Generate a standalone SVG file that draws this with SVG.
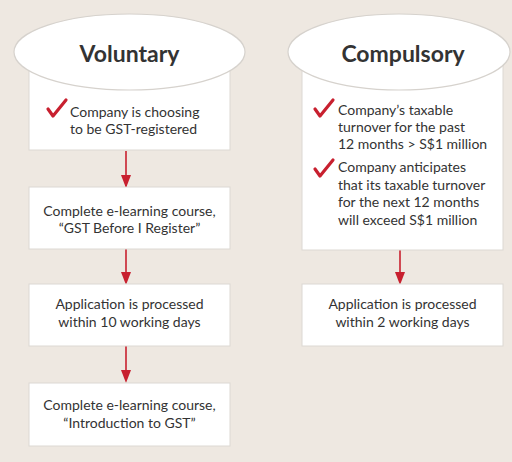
<svg xmlns="http://www.w3.org/2000/svg" width="512" height="462" viewBox="0 0 512 462">
<defs>
<style>
.box{fill:#fff;stroke:#dcd8d3;stroke-width:1}
.ell{fill:#fff;stroke:#d6d2cd;stroke-width:1.2}
.title{font-family:Lato,"Liberation Sans",sans-serif;font-size:23px;font-weight:bold;fill:#333;text-anchor:middle}
.t{font-family:Lato,"Liberation Sans",sans-serif;font-size:14px;fill:#333}
.c{text-anchor:middle}
.chk{fill:none;stroke:#c8202f;stroke-width:3.2;stroke-linecap:round;stroke-linejoin:round}
.arr{stroke:#c8202f;stroke-width:1.6;fill:none}
</style>
<marker id="ah" viewBox="0 0 10 10" refX="9" refY="5" markerWidth="7" markerHeight="7" markerUnits="userSpaceOnUse" orient="auto">
<path d="M0,0 L10,5 L0,10 z" fill="#c8202f"/>
</marker>
</defs>
<rect width="512" height="462" fill="#eee8e1"/>

<g id="connectors">
<line class="arr" x1="126" y1="151" x2="126" y2="188" marker-end="url(#ah)" style="marker-end:none"/>
<path d="M121,175 L131,175 L126,188 z" fill="#c8202f"/>
<line class="arr" x1="126" y1="249" x2="126" y2="278"/>
<path d="M121,272 L131,272 L126,285 z" fill="#c8202f"/>
<line class="arr" x1="126" y1="346" x2="126" y2="376"/>
<path d="M121,370 L131,370 L126,383 z" fill="#c8202f"/>
<line class="arr" x1="400" y1="250" x2="400" y2="278"/>
<path d="M395,272 L405,272 L400,285 z" fill="#c8202f"/>
</g>

<g id="voluntary">
<rect class="box" x="29" y="55" width="201" height="95"/>
<ellipse class="ell" cx="129.5" cy="52" rx="115.5" ry="38"/>
<text class="title" x="129.5" y="62">Voluntary</text>
<path class="chk" d="M48,109 L53,116 L66,100"/>
<text class="t" x="70" y="117">Company is choosing</text>
<text class="t" x="70" y="134">to be GST-registered</text>
</g>

<g id="course1">
<rect class="box" x="29" y="187" width="201" height="62"/>
<text class="t c" x="129.5" y="216">Complete e-learning course,</text>
<text class="t c" x="129.5" y="233">“GST Before I Register”</text>
</g>

<g id="process10">
<rect class="box" x="29" y="284" width="201" height="62"/>
<text class="t c" x="129.5" y="309">Application is processed</text>
<text class="t c" x="129.5" y="327">within 10 working days</text>
</g>

<g id="course2">
<rect class="box" x="29" y="383" width="201" height="63"/>
<text class="t c" x="129.5" y="410">Complete e-learning course,</text>
<text class="t c" x="129.5" y="428">“Introduction to GST”</text>
</g>

<g id="compulsory">
<rect class="box" x="302" y="55" width="201" height="195"/>
<ellipse class="ell" cx="399" cy="52" rx="111" ry="38"/>
<text class="title" x="403" y="62">Compulsory</text>
<path class="chk" d="M315,109 L320,116 L333,100"/>
<text class="t" x="338" y="115">Company’s taxable</text>
<text class="t" x="338" y="132">turnover for the past</text>
<text class="t" x="338" y="149">12 months &gt; S$1 million</text>
<path class="chk" d="M315,169 L320,176 L333,160"/>
<text class="t" x="338" y="172">Company anticipates</text>
<text class="t" x="338" y="190">that its taxable turnover</text>
<text class="t" x="338" y="207">for the next 12 months</text>
<text class="t" x="338" y="225">will exceed S$1 million</text>
</g>

<g id="process2">
<rect class="box" x="302" y="284" width="201" height="62"/>
<text class="t c" x="402.5" y="309">Application is processed</text>
<text class="t c" x="402.5" y="327">within 2 working days</text>
</g>
</svg>
